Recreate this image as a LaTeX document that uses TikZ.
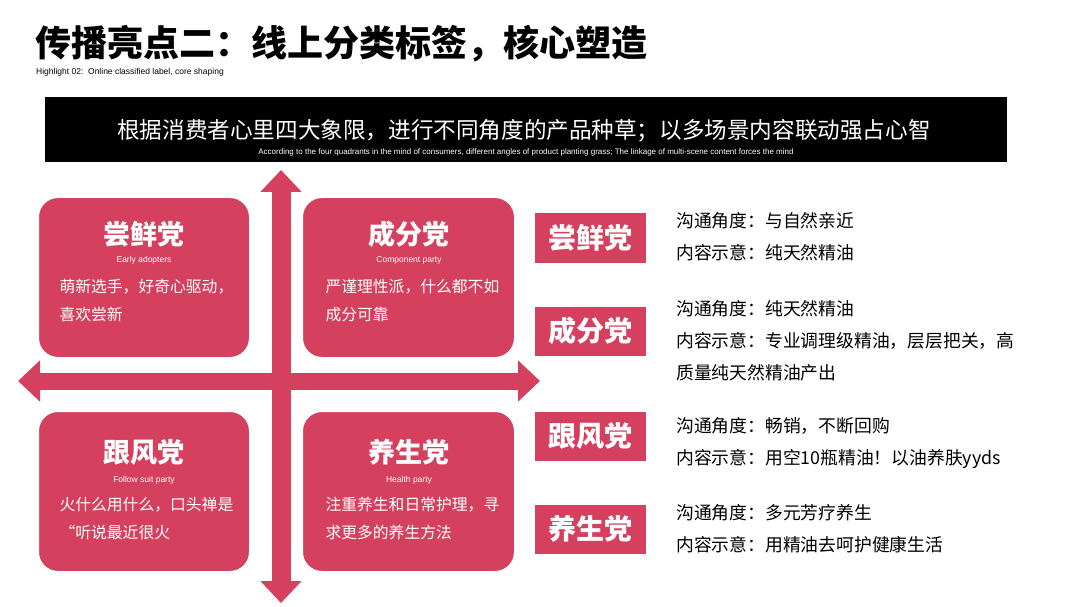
\documentclass[tikz,border=0pt]{standalone}
\usepackage{fontspec}
\setmainfont{Noto Sans CJK SC}
\newfontfamily\en{Liberation Sans}
\usetikzlibrary{arrows.meta}
\definecolor{rose}{HTML}{D6405F}
\begin{document}
\begin{tikzpicture}[x=1pt,y=-1pt,
 quad/.style={fill=rose,rounded corners=20pt},
 qt/.style={text=white,font=\bfseries\fontsize{27}{29}\selectfont},
 qe/.style={text=white,font=\en\fontsize{8.5}{9}\selectfont},
 qb/.style={text=white,font=\fontsize{15.8}{28}\selectfont,align=left,anchor=north west},
 tag/.style={fill=rose,minimum width=111pt,minimum height=49pt,inner sep=0pt,text=white,font=\bfseries\fontsize{28}{30}\selectfont},
 desc/.style={anchor=north west,align=left,font=\fontsize{17.8}{32}\selectfont,inner sep=0pt}]
\useasboundingbox (0,0) rectangle (1080,607);
\node[anchor=west,font=\bfseries\fontsize{36}{38}\selectfont] (title) at (32,44) {传播亮点二：线上分类标签，核心塑造};
\node[anchor=west,font=\en\fontsize{8.5}{9}\selectfont,inner sep=0pt] (sub) at (36,72) {Highlight 02:\ \ Online classified label, core shaping};
\fill (45,97) rectangle (1007,162);
\node[text=white,font=\fontsize{22.6}{24}\selectfont] (head) at (524,131) {根据消费者心里四大象限，进行不同角度的产品种草；以多场景内容联动强占心智};
\node[text=white,font=\en\fontsize{8}{8}\selectfont] (heade) at (526,152) {According to the four quadrants in the mind of consumers, different angles of product planting grass; The linkage of multi-scene content forces the mind};
% arrows
\coordinate (vt) at (281,170); \coordinate (vb) at (281,603);
\coordinate (hl) at (18,381); \coordinate (hr) at (540,381);
\draw[rose,line width=19pt,{Triangle[width=40pt,length=22pt]}-{Triangle[width=40pt,length=22pt]}] (vt) -- (vb);
\draw[rose,line width=17pt,{Triangle[width=40pt,length=22pt]}-{Triangle[width=40pt,length=22pt]}] (hl) -- (hr);
% quads
\fill[quad,draw=white,line width=2pt] (38,197) rectangle (250,358);
\fill[quad,draw=white,line width=2pt] (302,197) rectangle (515,358);
\fill[quad,draw=white,line width=2pt] (38,411) rectangle (250,572);
\fill[quad,draw=white,line width=2pt] (302,411) rectangle (515,572);
\node[qt] (a1) at (144,234) {尝鲜党};
\node[qe] (a2) at (144,260) {Early adopters};
\node[qb] (a3) at (56,276) {萌新选手，好奇心驱动，\\喜欢尝新};
\node[qt] (b1) at (409,234) {成分党};
\node[qe] (b2) at (409,260) {Component party};
\node[qb] (b3) at (322,276) {严谨理性派，什么都不如\\成分可靠};
\node[qt] (c1) at (144,452) {跟风党};
\node[qe] (c2) at (144,480) {Follow suit party};
\node[qb] (c3) at (56,494) {火什么用什么，口头禅是\\“听说最近很火};
\node[qt] (d1) at (409,452) {养生党};
\node[qe] (d2) at (409,480) {Health party};
\node[qb] (d3) at (322,494) {注重养生和日常护理，寻\\求更多的养生方法};
% tags
\node[tag] (t1) at (590,238) {尝鲜党};
\node[tag] (t2) at (590,331) {成分党};
\node[tag] (t3) at (590,436) {跟风党};
\node[tag] (t4) at (590,529) {养生党};
\node[desc] (s1) at (676,212) {沟通角度：与自然亲近\\内容示意：纯天然精油};
\node[desc] (s2) at (676,300) {沟通角度：纯天然精油\\内容示意：专业调理级精油，层层把关，高\\质量纯天然精油产出};
\node[desc] (s3) at (676,417) {沟通角度：畅销，不断回购\\内容示意：用空10瓶精油！以油养肤yyds};
\node[desc] (s4) at (676,504) {沟通角度：多元芳疗养生\\内容示意：用精油去呵护健康生活};
\end{tikzpicture}
\end{document}
